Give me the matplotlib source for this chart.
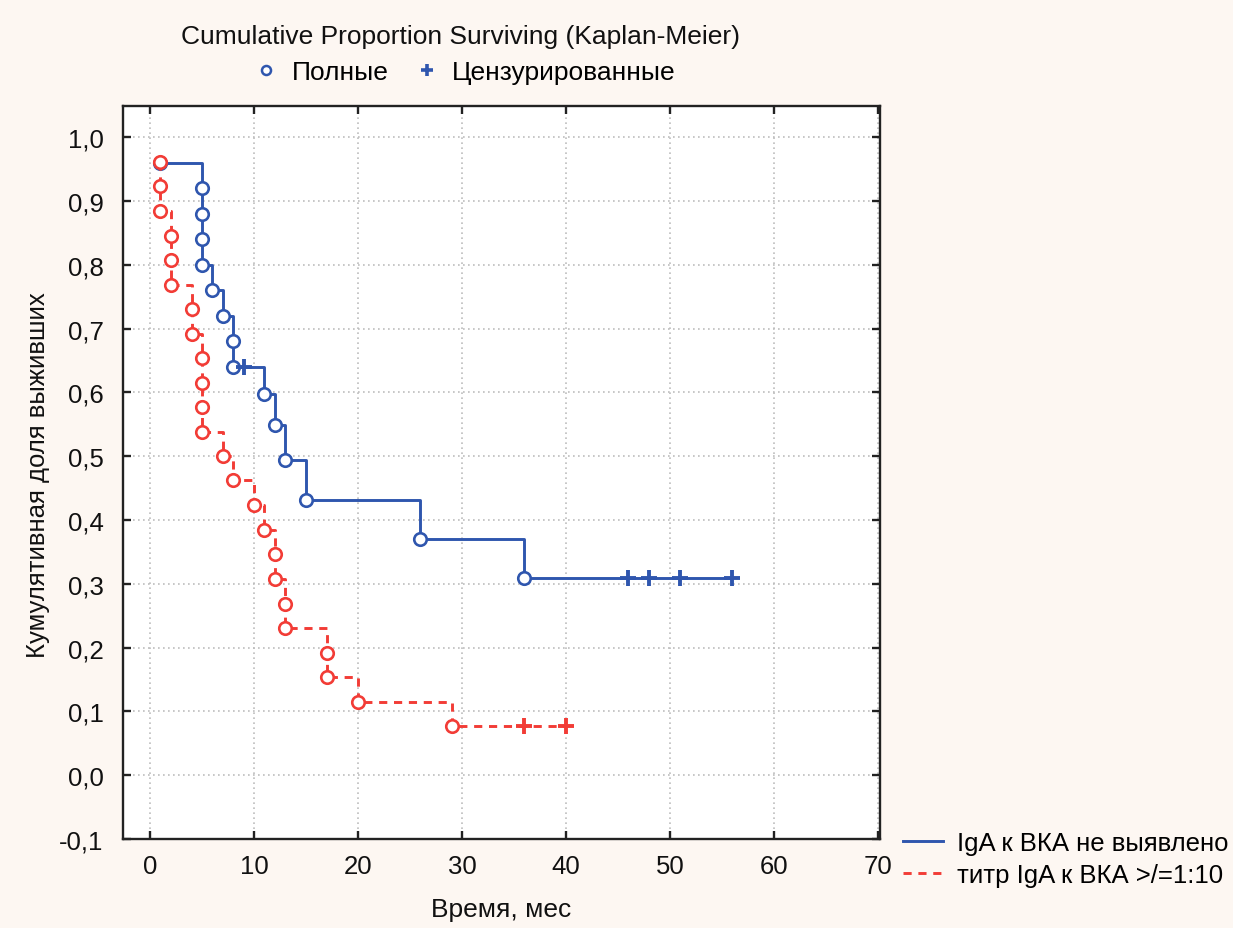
import matplotlib
matplotlib.use("Agg")
import matplotlib.pyplot as plt
from matplotlib.lines import Line2D
from matplotlib.ticker import FuncFormatter, MultipleLocator

plt.rcParams['font.family'] = ['Liberation Sans', 'DejaVu Sans']

# --- data ---
title = "Cumulative Proportion Surviving (Kaplan-Meier)"
series_names = ["IgA к ВКА не выявлено", "титр IgA к ВКА >/=1:10"]

# group 1: IgA not detected (complete events)
blue_times = [1, 5, 5, 5, 5, 6, 7, 8, 8, 11, 12, 13, 15, 26, 36]
blue_surv = [0.96, 0.92, 0.88, 0.84, 0.80, 0.76, 0.72, 0.68, 0.64,
             0.597, 0.549, 0.494, 0.432, 0.371, 0.309]
blue_cens_times = [9, 46, 48, 51, 56]
blue_cens_surv = [0.64, 0.309, 0.309, 0.309, 0.309]

# group 2: titre >= 1:10
red_times = [1, 1, 1, 2, 2, 2, 4, 4, 5, 5, 5, 5, 7, 8, 10, 11, 12, 12,
             13, 13, 17, 17, 20, 29]
red_surv = [0.962, 0.923, 0.885, 0.846, 0.808, 0.769, 0.731, 0.692,
            0.654, 0.615, 0.577, 0.538, 0.500, 0.462, 0.423, 0.385,
            0.346, 0.308, 0.269, 0.231, 0.192, 0.154, 0.115, 0.077]
red_cens_times = [36, 40]
red_cens_surv = [0.077, 0.077]

legend_top = ["Полные", "Цензурированные"]
xlabel = "Время, мес"
ylabel = "Кумулятивная доля выживших"

# --- style ---
bg = "#FDF7F2"
blue = "#2F56AE"
red = "#F23C36"
LW = 2.1
DASH = (0, (2.8, 2.3))

W, H = 1233, 929
fig = plt.figure(figsize=(W / 100, H / 100), dpi=100, facecolor=bg)
ax = fig.add_axes([123 / W, 1 - 840 / H, (880 - 123) / W, (840 - 107) / H])
ax.set_facecolor("white")

def step_xy(times, surv, ctimes):
    x = list(times)
    y = list(surv)
    last = max(ctimes) if ctimes else times[-1]
    if last > x[-1]:
        x.append(last)
        y.append(y[-1])
    return x, y

bx, by = step_xy(blue_times, blue_surv, blue_cens_times)
rx, ry = step_xy(red_times, red_surv, red_cens_times)

ax.plot(bx, by, drawstyle="steps-post", color=blue, lw=LW, zorder=3)
ax.plot(blue_times, blue_surv, ls="none", marker="o", ms=9, mfc="white",
        mec=blue, mew=1.9, zorder=4)
ax.plot(blue_cens_times, blue_cens_surv, ls="none", marker="+", ms=11.5,
        mec=blue, mew=2.8, zorder=4)

ax.plot(rx, ry, drawstyle="steps-post", color=red, lw=LW,
        linestyle=DASH, zorder=5)
ax.plot(red_times, red_surv, ls="none", marker="o", ms=9, mfc="white",
        mec=red, mew=1.9, zorder=6)
ax.plot(red_cens_times, red_cens_surv, ls="none", marker="+", ms=11.5,
        mec=red, mew=2.8, zorder=6)

ax.set_xlim(-2.6, 70.2)
ax.set_ylim(-0.1, 1.049)
ax.xaxis.set_major_locator(MultipleLocator(10))
ax.yaxis.set_major_locator(MultipleLocator(0.1))
ax.yaxis.set_major_formatter(FuncFormatter(lambda v, p: f"{v:.1f}".replace(".", ",").replace("-0,0", "0,0")))
ax.xaxis.set_major_formatter(FuncFormatter(lambda v, p: f"{v:.0f}"))

ax.grid(True, color="#BDBDBD", linestyle=(0, (1, 2)), lw=1.2)
ax.set_axisbelow(True)
for s in ax.spines.values():
    s.set_color("#222222")
    s.set_linewidth(1.7)
ax.tick_params(direction="in", length=6, width=1.7, top=True, right=True,
               labelsize=18.5, colors="#222222", labelcolor="#111111")
ax.tick_params(axis="y", pad=14)
ax.tick_params(axis="x", pad=11)

fig.text(38 / W, 1 - 475 / H, ylabel, rotation=90, ha="center", va="center",
         fontsize=18.5, color="#111111")
fig.text(501 / W, 1 - 910 / H, xlabel, ha="center", va="center",
         fontsize=19, color="#111111")
fig.text(460 / W, 1 - 37 / H, title, ha="center", va="center",
         fontsize=19, color="#111111")

top_handles = [
    Line2D([], [], ls="none", marker="o", ms=6.5, mfc="white", mec=blue, mew=1.8),
    Line2D([], [], ls="none", marker="+", ms=9, mec=blue, mew=2.6),
]
fig.legend(top_handles, legend_top, loc="center", ncol=2, frameon=False,
           bbox_to_anchor=(465 / W, 1 - 73 / H), fontsize=19,
           handlelength=0.9, handletextpad=0.5, columnspacing=1.0)

bottom_handles = [
    Line2D([], [], color=blue, lw=LW),
    Line2D([], [], color=red, lw=LW, linestyle=DASH),
]
fig.legend(bottom_handles, series_names, loc="center left", frameon=False,
           bbox_to_anchor=(903 / W, 1 - 860 / H), fontsize=18.5,
           handlelength=1.55, handletextpad=0.55, labelspacing=0.3,
           borderpad=0, borderaxespad=0)

fig.savefig("out.png", dpi=100, facecolor=bg)
